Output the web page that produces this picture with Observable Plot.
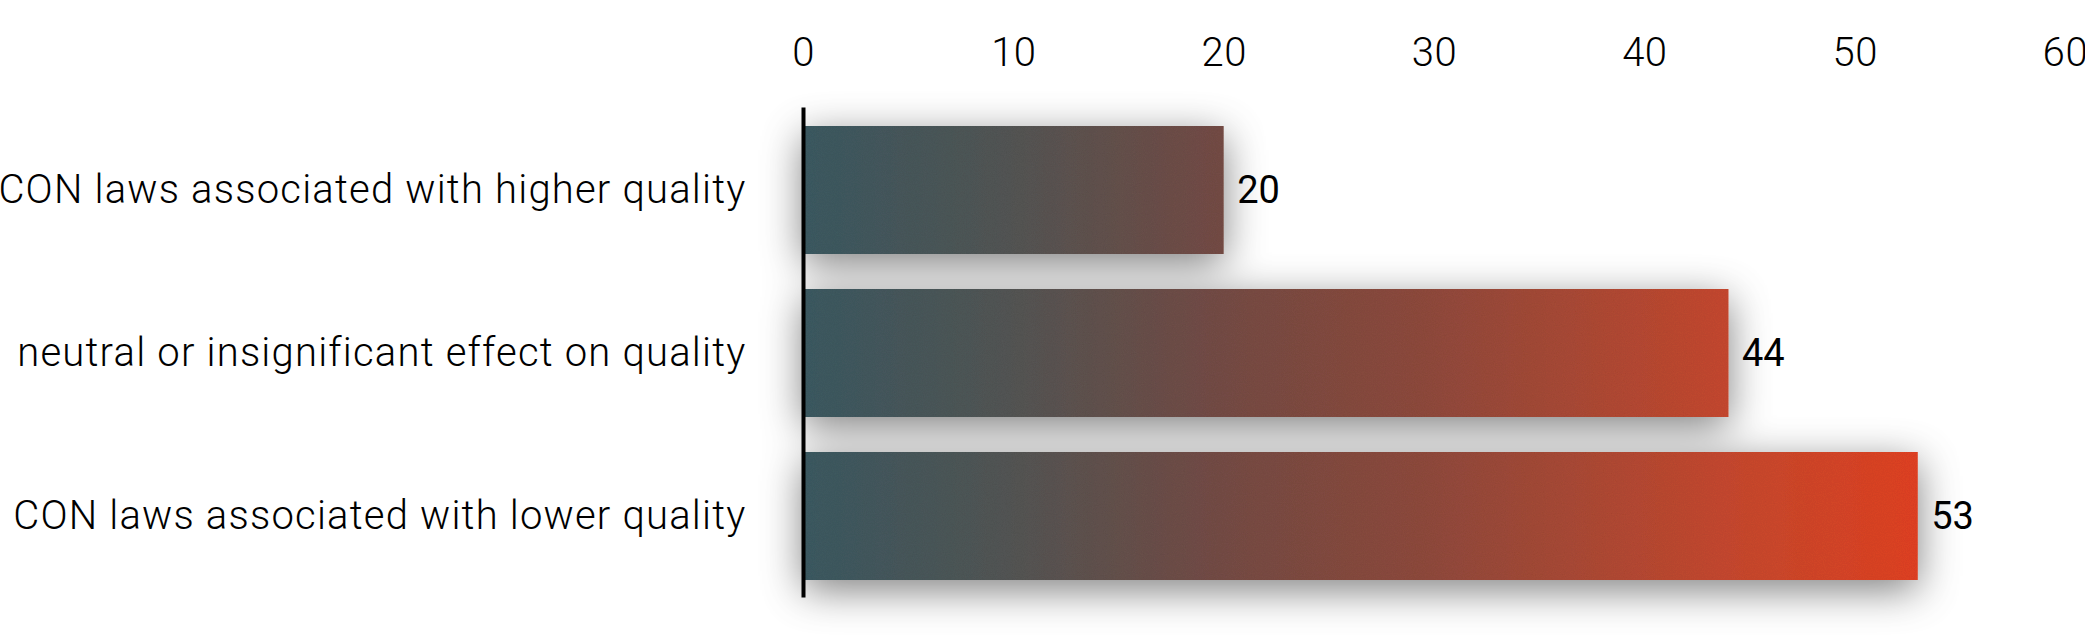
<!DOCTYPE html>
<html>
<head>
<meta charset="utf-8">
<script src="https://cdn.jsdelivr.net/npm/d3@7"></script>
<script src="https://cdn.jsdelivr.net/npm/@observablehq/plot@0.6"></script>
<style>
  html, body { margin: 0; padding: 0; background: #fff; }
  #chart svg { display: block; overflow: visible; }
</style>
</head>
<body>
<div id="chart"></div>
<script>
const categories = [
  "CON laws associated with higher quality",
  "neutral or insignificant effect on quality",
  "CON laws associated with lower quality"
];
const counts = [20, 44, 53];
const xTicks = [0, 10, 20, 30, 40, 50, 60];

const data = categories.map((c, i) => ({category: c, value: counts[i]}));

const chart = Plot.plot({
  width: 2085,
  height: 642,
  marginLeft: 803,
  marginRight: 20,
  marginTop: 89.5,
  marginBottom: 26.5,
  style: {fontFamily: "Roboto, 'Open Sans', sans-serif", fontSize: "40px", color: "#000", background: "#fff"},
  x: {domain: [0, 60], axis: "top", ticks: xTicks, tickSize: 0, tickPadding: 24, label: null},
  y: {domain: categories, padding: 0.217, tickSize: 0, tickPadding: 57, label: null},
  marks: [
    Plot.barX(data, {x: "value", y: "category", fill: "url(#barGrad)"}),
    Plot.ruleX([0], {stroke: "#000", strokeWidth: 4, insetTop: 18, insetBottom: 18}),
    Plot.text(data, {x: "value", y: "category", text: d => String(d.value), textAnchor: "start", dx: 13, fontSize: 38, fill: "#000", fontWeight: 400})
  ]
});

const svg = d3.select(chart);
svg.selectAll('g[aria-label="x-axis tick label"]')
  .attr("font-weight", 300).attr("letter-spacing", "0.5px");
svg.selectAll('g[aria-label="y-axis tick label"]')
  .attr("font-weight", 300).attr("letter-spacing", "1.2px");

const xs = chart.scale("x");
const gx0 = xs.apply(0), gx1 = xs.apply(d3.max(counts));
const defs = svg.insert("defs", ":first-child");
const grad = defs.append("linearGradient")
  .attr("id", "barGrad")
  .attr("gradientUnits", "userSpaceOnUse")
  .attr("x1", gx0).attr("x2", gx1).attr("y1", 0).attr("y2", 0);
[[0, "#3d5b63"], [0.18, "#545756"], [0.38, "#774d46"], [0.55, "#8f4c3e"], [0.83, "#c84a30"], [1, "#e34325"]]
  .forEach(([o, c]) => grad.append("stop").attr("offset", o).attr("stop-color", c));

const f = defs.append("filter").attr("id", "barShadow")
  .attr("x", "-10%").attr("y", "-30%").attr("width", "125%").attr("height", "165%");
f.append("feGaussianBlur").attr("in", "SourceAlpha").attr("stdDeviation", 20).attr("result", "b");
f.append("feOffset").attr("in", "b").attr("dy", 10).attr("result", "bo");
f.append("feFlood").attr("flood-color", "#000").attr("flood-opacity", 0.5).attr("result", "fl");
f.append("feComposite").attr("in", "fl").attr("in2", "bo").attr("operator", "in").attr("result", "shadow");
f.append("feTurbulence").attr("type", "fractalNoise").attr("baseFrequency", 0.9).attr("numOctaves", 2).attr("seed", 3).attr("result", "noise");
f.append("feColorMatrix").attr("in", "noise").attr("type", "matrix")
  .attr("values", "0 0 0 0 0  0 0 0 0 0  0 0 0 0 0  0 0 0 0.15 0").attr("result", "noiseA");
f.append("feComposite").attr("in", "noiseA").attr("in2", "SourceGraphic").attr("operator", "in").attr("result", "noiseClip");
const m = f.append("feMerge");
m.append("feMergeNode").attr("in", "shadow");
m.append("feMergeNode").attr("in", "SourceGraphic");
m.append("feMergeNode").attr("in", "noiseClip");

svg.select('g[aria-label="bar"]').attr("filter", "url(#barShadow)");

document.getElementById("chart").appendChild(chart);
</script>
</body>
</html>
